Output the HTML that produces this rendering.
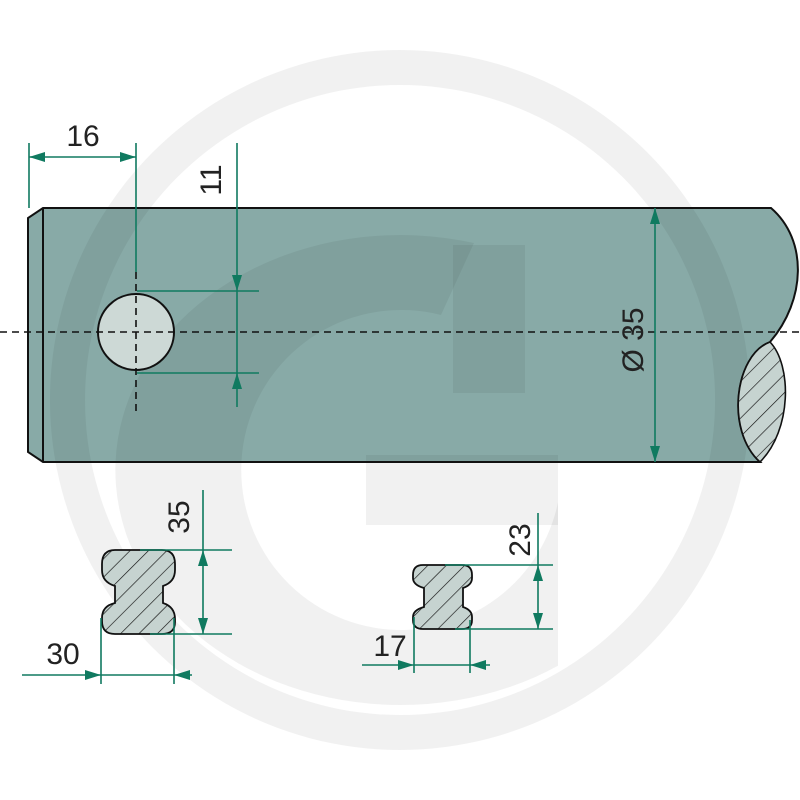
<!DOCTYPE html>
<html><head><meta charset="utf-8"><style>html,body{margin:0;padding:0;background:#fff}svg{display:block}</style></head>
<body>
<svg width="800" height="800" viewBox="0 0 800 800" xmlns="http://www.w3.org/2000/svg">
<defs>
<pattern id="h" patternUnits="userSpaceOnUse" width="13" height="13" patternTransform="rotate(45)">
<rect width="13" height="13" fill="#c6d3d0"/>
<line x1="0" y1="0" x2="0" y2="13" stroke="#111" stroke-width="1.3"/>
</pattern>
<clipPath id="gc"><rect x="0" y="0" width="558" height="800"/></clipPath>
<marker id="a" viewBox="0 0 16 10" refX="16" refY="5" markerWidth="16" markerHeight="10" markerUnits="userSpaceOnUse" orient="auto-start-reverse"><path d="M0,0 L16,5 L0,10 Z" fill="#107a60"/></marker>
</defs>

<path d="M43,208 H771 C808,240 806,300 770,342 C735,355 725,430 760,462 H43 L28,452 V218 Z" fill="#88aaa7"/>

<g fill="#000" fill-opacity="0.055">
<path fill-rule="evenodd" d="M400,50 A350,350 0 1,1 399.9,50 Z M400,85 A315,315 0 1,0 400.1,85 Z"/>
<g clip-path="url(#gc)">
<path fill-rule="evenodd" d="M474,243 A285,235 0 1,0 681,511 L560,490 A160,160 0 1,1 441,315 Z"/>
</g>
<rect x="453" y="245" width="72" height="148"/>
<rect x="366" y="455" width="192" height="70"/>
</g>

<g fill="none" stroke="#111" stroke-width="2">
<path d="M43,208 H771 C808,240 806,300 770,342 C735,355 725,430 760,462 H43 L28,452 V218 Z"/>
<line x1="43" y1="208" x2="43" y2="462"/>
</g>
<path d="M770,342 C735,355 725,430 760,462 C792,430 792,365 770,342 Z" fill="url(#h)" stroke="#111" stroke-width="1.6"/>

<circle cx="136" cy="332" r="38" fill="#cdd9d6" stroke="#111" stroke-width="2"/>
<g stroke="#111" stroke-width="1.6" stroke-dasharray="7,5" fill="none">
<line x1="0" y1="332" x2="800" y2="332"/>
<line x1="136" y1="272" x2="136" y2="412"/>
</g>

<path d="M115,550 H162 Q175,550 175,564 V570 Q175,582 163,586 V603 Q175,607 175,619 V622 Q175,634 162,634 H115 Q102,634 102,621 V618 Q102,606 115,603 V586 Q102,582 102,570 V564 Q102,550 115,550 Z" fill="url(#h)" stroke="#111" stroke-width="1.8"/>
<path d="M423,565 H462 Q472,565 472,575 V578 Q472,585 463,588 V607 Q472,610 472,617 V620 Q472,629 462,629 H423 Q413,629 413,620 V617 Q413,610 424,607 V588 Q413,585 413,578 V575 Q413,565 423,565 Z" fill="url(#h)" stroke="#111" stroke-width="1.8"/>

<g stroke="#107a60" stroke-width="1.6" fill="none">
<line x1="29" y1="143" x2="29" y2="208"/>
<line x1="136" y1="143" x2="136" y2="272"/>
<line x1="29" y1="157" x2="136" y2="157" marker-start="url(#a)" marker-end="url(#a)"/>
<line x1="237" y1="143" x2="237" y2="291" marker-end="url(#a)"/>
<line x1="237" y1="407" x2="237" y2="373" marker-end="url(#a)"/>
<line x1="237" y1="291" x2="237" y2="373"/>
<line x1="137" y1="291" x2="259" y2="291"/>
<line x1="137" y1="373" x2="259" y2="373"/>
<line x1="655" y1="208" x2="655" y2="462" marker-start="url(#a)" marker-end="url(#a)"/>

<line x1="203" y1="490" x2="203" y2="550"/>
<line x1="203" y1="550" x2="203" y2="634" marker-start="url(#a)" marker-end="url(#a)"/>
<line x1="140" y1="550" x2="232" y2="550"/>
<line x1="150" y1="634" x2="232" y2="634"/>
<line x1="101" y1="618" x2="101" y2="684"/>
<line x1="174" y1="618" x2="174" y2="684"/>
<line x1="22" y1="675" x2="101" y2="675" marker-end="url(#a)"/>
<line x1="101" y1="675" x2="174" y2="675"/>
<line x1="192" y1="675" x2="174" y2="675" marker-end="url(#a)"/>

<line x1="538" y1="513" x2="538" y2="565"/>
<line x1="538" y1="565" x2="538" y2="629" marker-start="url(#a)" marker-end="url(#a)"/>
<line x1="445" y1="565" x2="553" y2="565"/>
<line x1="455" y1="629" x2="553" y2="629"/>
<line x1="414" y1="617" x2="414" y2="673"/>
<line x1="470" y1="620" x2="470" y2="673"/>
<line x1="362" y1="665" x2="414" y2="665" marker-end="url(#a)"/>
<line x1="414" y1="665" x2="470" y2="665"/>
<line x1="490" y1="665" x2="470" y2="665" marker-end="url(#a)"/>
</g>

<g font-family="Liberation Sans, sans-serif" font-size="30" fill="#222">
<text x="83" y="146" text-anchor="middle">16</text>
<text transform="translate(221,180) rotate(-90)" text-anchor="middle">11</text>
<text transform="translate(643,340) rotate(-90)" text-anchor="middle">Ø 35</text>
<text transform="translate(189,517) rotate(-90)" text-anchor="middle">35</text>
<text x="63" y="664" text-anchor="middle">30</text>
<text transform="translate(530,540) rotate(-90)" text-anchor="middle">23</text>
<text x="390" y="656" text-anchor="middle">17</text>
</g>
</svg>
</body></html>
